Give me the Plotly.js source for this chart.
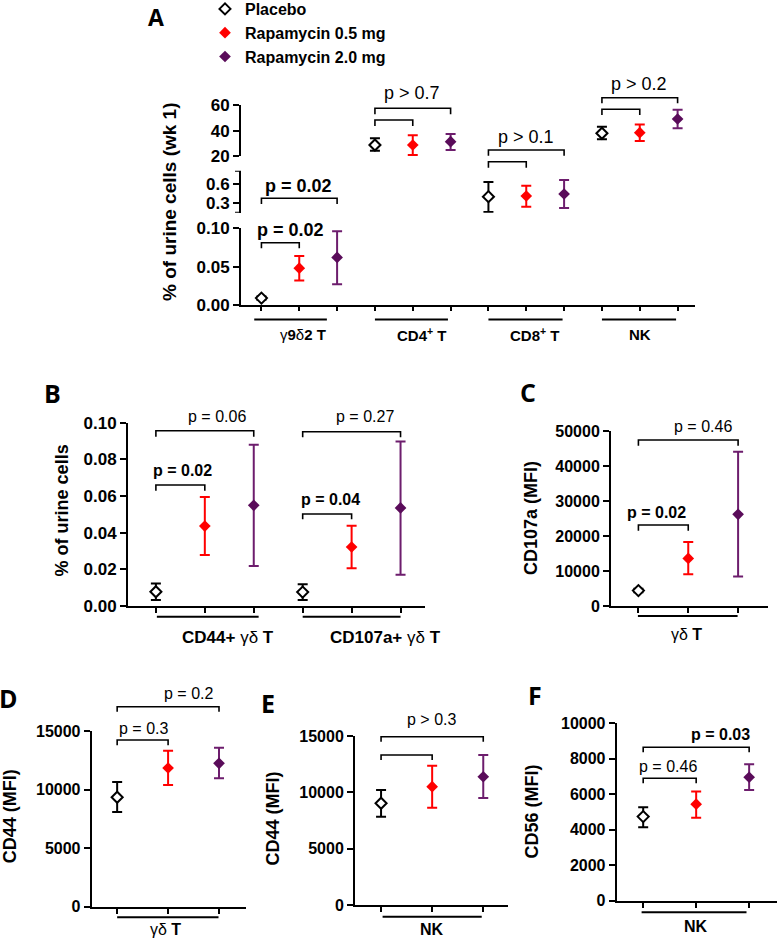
<!DOCTYPE html>
<html><head><meta charset="utf-8">
<script src="https://cdn.plot.ly/plotly-3.0.1.min.js"></script>
<style>html,body{margin:0;padding:0;background:#fff}</style>
</head><body><div id="chart" style="width:777px;height:941px"></div>
<script>
// ---------------- DATA ----------------
const seriesNames = ['Placebo', 'Rapamycin 0.5 mg', 'Rapamycin 2.0 mg'];

// Panel A (% of urine cells, wk 1) — groups: γ9δ2 T, CD4+ T, CD8+ T, NK
const aGroups = ['γ<b>9</b>δ<b>2 T</b>', '<b>CD4<sup>+</sup> T</b>', '<b>CD8<sup>+</sup> T</b>', '<b>NK</b>'];
const aPlacebo   = [0.009, 28.8, 0.395, 38.0];
const aPlaceboUp = [0.002, 5.2, 0.23, 5.1];
const aPlaceboDn = [0.002, 4.4, 0.24, 4.7];
const aLow       = [0.048, 28.8, 0.406, 38.4];
const aLowUp     = [0.016, 7.6, 0.16, 6.3];
const aLowDn     = [0.016, 7.8, 0.17, 6.4];
const aHigh      = [0.062, 31.4, 0.437, 49.1];
const aHighUp    = [0.034, 6.0, 0.22, 7.1];
const aHighDn    = [0.035, 6.5, 0.22, 7.2];
const aPvals     = ['p = 0.02', 'p = 0.02', 'p > 0.7', 'p > 0.1', 'p > 0.2'];
const aTicksLow  = [0, 0.05, 0.1];
const aTicksMid  = [0.3, 0.6];
const aTicksTop  = [20, 40, 60];

// Panel B (% of urine cells)
const bGroups = ['<b>CD44+ </b>γδ<b> T</b>', '<b>CD107a+ </b>γδ<b> T</b>'];
const bPlacebo   = [0.0078, 0.0076];
const bPlaceboUp = [0.0045, 0.0042];
const bPlaceboDn = [0.0045, 0.0043];
const bLow       = [0.0436, 0.0322];
const bLowUp     = [0.0159, 0.0116];
const bLowDn     = [0.0158, 0.0116];
const bHigh      = [0.0549, 0.0535];
const bHighUp    = [0.0331, 0.0363];
const bHighDn    = [0.0331, 0.0364];
const bPvals     = ['p = 0.02', 'p = 0.06', 'p = 0.04', 'p = 0.27'];

// Panel C: CD107a (MFI), γδ T
const cGroup = 'γδ<b> T</b>';
const cMean = [4400, 13600, 26200];
const cUp   = [500, 4700, 17900];
const cDn   = [500, 4550, 17800];
const cPvals = ['p = 0.02', 'p = 0.46'];

// Panel D: CD44 (MFI), γδ T
const dGroup = 'γδ<b> T</b>';
const dMean = [9340, 11840, 12240];
const dUp   = [1300, 1480, 1330];
const dDn   = [1250, 1450, 1280];
const dPvals = ['p = 0.3', 'p = 0.2'];

// Panel E: CD44 (MFI), NK
const eGroup = '<b>NK</b>';
const eMean = [9040, 10510, 11390];
const eUp   = [1180, 1860, 1920];
const eDn   = [1190, 1860, 1890];
const ePval = 'p > 0.3';

// Panel F: CD56 (MFI), NK
const fGroup = '<b>NK</b>';
const fMean = [4740, 5440, 6960];
const fUp   = [530, 710, 730];
const fDn   = [600, 760, 720];
const fPvals = ['p = 0.46', 'p = 0.03'];

// ---------------- STYLE / LAYOUT ----------------
const W = 777, H = 941;
const FONT = 'Liberation Sans, Arial, sans-serif';
const px = v => v / W;
const py = v => 1 - v / H;
const xdom = (a, b) => [px(a), px(b)];
const ydom = (bottom, top) => [py(bottom), py(top)];

const markerStyles = [
  {symbol: 'diamond', size: 8.5, color: '#ffffff', line: {color: '#000000', width: 2}},
  {symbol: 'diamond', size: 9, color: '#ff0000', line: {width: 0}},
  {symbol: 'diamond', size: 9, color: '#5a0c5a', line: {width: 0}}
];
const errColors = ['#000000', '#ff0000', '#6d1d6d'];

const traces = [];
function addSeries(xa, ya, xs, ys, up, dn, s, showLegend) {
  traces.push({
    type: 'scatter', mode: 'markers', x: xs, y: ys, xaxis: xa, yaxis: ya,
    name: seriesNames[s], legendgroup: 's' + s, showlegend: showLegend,
    marker: markerStyles[s], cliponaxis: false, hoverinfo: 'skip',
    error_y: {type: 'data', symmetric: false, array: up, arrayminus: dn,
              color: errColors[s], thickness: 2, width: 5}
  });
}

// Panel A traces (broken y axis: y = 0–0.1, y2 = 0.14–0.8, y3 = 20–60)
const aYaxis = ['y', 'y3', 'y2', 'y3'];
const aSeries = [[aPlacebo, aPlaceboUp, aPlaceboDn], [aLow, aLowUp, aLowDn], [aHigh, aHighUp, aHighDn]];
for (let s = 0; s < 3; s++) {
  for (let g = 0; g < aGroups.length; g++) {
    const [v, u, d] = aSeries[s];
    addSeries('x', aYaxis[g], [g * 3 + s], [v[g]], [u[g]], [d[g]], s, g === 0);
  }
}
// Panel B
const bSeries = [[bPlacebo, bPlaceboUp, bPlaceboDn], [bLow, bLowUp, bLowDn], [bHigh, bHighUp, bHighDn]];
for (let s = 0; s < 3; s++) {
  const [v, u, d] = bSeries[s];
  addSeries('x2', 'y4', bGroups.map((_, g) => g * 3 + s), v, u, d, s, false);
}
// Panels C–F
[[cMean, cUp, cDn, 'x3', 'y5'], [dMean, dUp, dDn, 'x4', 'y6'], [eMean, eUp, eDn, 'x5', 'y7'], [fMean, fUp, fDn, 'x6', 'y8']]
  .forEach(([m, u, d, xa, ya]) => {
    for (let s = 0; s < 3; s++) addSeries(xa, ya, [s], [m[s]], [u[s]], [d[s]], s, false);
  });

const axBase = {
  showgrid: false, zeroline: false, showline: true, linecolor: '#000', linewidth: 2,
  ticks: 'outside', tickcolor: '#000', tickwidth: 2, ticklen: 6, fixedrange: true,
  tickfont: {family: FONT, size: 16, color: '#000', weight: 'bold'}
};
const bigTick = {family: FONT, size: 17, color: '#000', weight: 'bold'};
const xBase = Object.assign({}, axBase, {showticklabels: false, ticklen: 5});
const mk = (base, extra) => Object.assign({}, base, extra);

const layout = {
  width: W, height: H, margin: {l: 0, r: 0, t: 0, b: 0, pad: 0, autoexpand: false},
  paper_bgcolor: '#fff', plot_bgcolor: 'rgba(0,0,0,0)',
  font: {family: FONT, color: '#000'},
  showlegend: true,
  legend: {x: px(205), y: py(-8), xanchor: 'left', yanchor: 'top', bgcolor: 'rgba(0,0,0,0)',
           font: {family: FONT, size: 16, color: '#000', weight: 'bold'}, tracegroupgap: 0, itemclick: false},
  // Panel A
  xaxis:  mk(xBase, {domain: xdom(241, 695), range: [-0.54, 11.46], anchor: 'y',
                     tickvals: [0,1,2,3,4,5,6,7,8,9,10,11], ticklen: 4}),
  yaxis:  mk(axBase, {domain: ydom(305, 228.3), range: [0, 0.1], anchor: 'x',
                      tickvals: aTicksLow, tickformat: '.2f', tickfont: bigTick}),
  yaxis2: mk(axBase, {domain: ydom(212.7, 170.7), range: [0.142, 0.805], anchor: 'x',
                      tickvals: aTicksMid, tickformat: '.1f', tickfont: bigTick}),
  yaxis3: mk(axBase, {domain: ydom(156.3, 105), range: [20, 60], anchor: 'x',
                      tickvals: aTicksTop, tickfont: bigTick}),
  // Panel B
  xaxis2: mk(xBase, {domain: xdom(128, 425), range: [-0.57, 5.5], anchor: 'y4', tickvals: [0,1,2,3,4,5]}),
  yaxis4: mk(axBase, {domain: ydom(606, 422.7), range: [0, 0.1], anchor: 'x2', dtick: 0.02, tickformat: '.2f',
                      tickfont: bigTick}),
  // Panel C
  xaxis3: mk(xBase, {domain: xdom(611, 768), range: [-0.55, 2.6], anchor: 'y5', tickvals: [0,1,2]}),
  yaxis5: mk(axBase, {domain: ydom(606, 431), range: [0, 50000], anchor: 'x3', dtick: 10000, tickformat: 'd'}),
  // Panel D
  xaxis4: mk(xBase, {domain: xdom(91.7, 246), range: [-0.5, 2.53], anchor: 'y6', tickvals: [0,1,2]}),
  yaxis6: mk(axBase, {domain: ydom(906.7, 731), range: [0, 15000], anchor: 'x4', dtick: 5000, tickformat: 'd'}),
  // Panel E
  xaxis5: mk(xBase, {domain: xdom(355, 508.3), range: [-0.51, 2.49], anchor: 'y7', tickvals: [0,1,2]}),
  yaxis7: mk(axBase, {domain: ydom(905.3, 736), range: [0, 15000], anchor: 'x5', dtick: 5000, tickformat: 'd'}),
  // Panel F
  xaxis6: mk(xBase, {domain: xdom(616.7, 776.7), range: [-0.5, 2.52], anchor: 'y8', tickvals: [0,1,2]}),
  yaxis8: mk(axBase, {domain: ydom(900.7, 723.3), range: [0, 10000], anchor: 'x6', dtick: 2000, tickformat: 'd'}),
  shapes: [], annotations: []
};

// end caps of the middle (broken) segment of panel A's y axis
[0.142, 0.805].forEach(v => layout.shapes.push({type: 'line', xref: 'paper', yref: 'y2',
  x0: px(235), x1: px(241), y0: v, y1: v, line: {color: '#000', width: 2}}));

function bracket(xa, x0, x1, top, leg) {
  layout.shapes.push({type: 'path', xref: xa, yref: 'paper', line: {color: '#000', width: 1.6},
    path: `M ${x0},${py(leg)} L ${x0},${py(top)} L ${x1},${py(top)} L ${x1},${py(leg)}`});
}
function text(xref, x, y, t, size, bold, extra) {
  layout.annotations.push(Object.assign({xref: xref, yref: 'paper', x: x, y: py(y), text: bold ? '<b>' + t + '</b>' : t,
    showarrow: false, xanchor: 'center', yanchor: 'middle', font: {family: FONT, size: size, color: '#000'}}, extra || {}));
}
function underline(xa, x0, x1, y) {
  layout.shapes.push({type: 'line', xref: xa, yref: 'paper', x0: x0, x1: x1, y0: py(y), y1: py(y), line: {color: '#000', width: 2}});
}

// Panel A brackets
bracket('x', 0, 1, 242.7, 248.3); text('x', 0.76, 230, aPvals[0], 18, true);
bracket('x', 0, 2, 198.3, 204);   text('x', 0.97, 186.5, aPvals[1], 18, true);
bracket('x', 3, 4, 120, 126); bracket('x', 3, 5, 108.3, 114.3); text('x', 3.99, 93, aPvals[2], 18, false);
bracket('x', 6, 7, 161.7, 167.7); bracket('x', 6, 8, 150, 155.7); text('x', 7.0, 137, aPvals[3], 18, false);
bracket('x', 9, 10, 109.3, 115); bracket('x', 9, 11, 97.7, 103.3); text('x', 9.99, 84, aPvals[4], 18, false);
// Panel A group labels
[[-0.19, 1.73, 1.1], [3.0, 4.93, 4.24], [6.0, 7.96, 7.24], [9.0, 10.96, 10.0]].forEach(([a, b, c], g) => {
  underline('x', a, b, 319.5); text('x', c, 334, aGroups[g], 15, false);
});
// Panel B
bracket('x2', 0, 1, 485, 490.7); text('x2', 0.55, 470.7, bPvals[0], 16, true);
bracket('x2', 0, 2, 430.7, 436.7); text('x2', 1.25, 416, bPvals[1], 16, false);
bracket('x2', 3, 4, 514, 519.3); text('x2', 3.57, 499.3, bPvals[2], 16, true);
bracket('x2', 3, 5, 431.7, 437.3); text('x2', 4.28, 416, bPvals[3], 16, false);
[[0.02, 2.1, 1.47], [3.0, 5.0, 4.7]].forEach(([a, b, c], g) => {
  underline('x2', a, b, 616.7); text('x2', c, 637, bGroups[g], 17, false);
});
// Panel C
bracket('x3', 0, 1, 525, 530.7); text('x3', 0.37, 512.7, cPvals[0], 16, true);
bracket('x3', 0, 2, 440, 445.7); text('x3', 1.3, 426.7, cPvals[1], 16, false);
underline('x3', -0.01, 1.99, 616); text('x3', 0.97, 634, cGroup, 16, false);
// Panel D
bracket('x4', 0, 1, 740, 745.3); text('x4', 0.52, 728.3, dPvals[0], 16, false);
bracket('x4', 0, 2, 706.7, 711.7); text('x4', 1.4, 693.3, dPvals[1], 16, false);
underline('x4', 0, 1.99, 917.3); text('x4', 0.94, 929, dGroup, 16, false);
// Panel E
bracket('x5', 0, 1, 755, 760);
bracket('x5', 0, 2, 736.7, 741.7); text('x5', 0.99, 719.3, ePval, 16, false);
underline('x5', 0.03, 1.97, 916.7); text('x5', 0.99, 929, eGroup, 16, false);
// Panel F
bracket('x6', 0, 1, 778.3, 783.3); text('x6', 0.47, 766.7, fPvals[0], 16, false);
bracket('x6', 0, 2, 747.3, 752.3); text('x6', 1.45, 734, fPvals[1], 16, true);
underline('x6', -0.03, 1.95, 912.3); text('x6', 1.0, 926, fGroup, 16, false);

// Y axis titles
const yTitles = [['% of urine cells (wk 1)', 169, 202, 19], ['% of urine cells', 61.7, 510.7, 18],
                 ['CD107a (MFI)', 531.7, 518.3, 18], ['CD44 (MFI)', 9.5, 816.7, 18],
                 ['CD44 (MFI)', 273.3, 818.3, 18], ['CD56 (MFI)', 531.7, 811.7, 18]];
yTitles.forEach(([t, x, y, s]) => text('paper', px(x), y, t, s, true, {textangle: -90}));

// Panel letters
const letterFont = {family: 'Open Sans, sans-serif', size: 25, color: '#000'};
text('paper', px(156), 0, 'A', 23, true, {yanchor: 'top', font: {family: 'Open Sans, sans-serif', size: 23, color: '#000'}, borderpad: 0});
[['B', 53, 393], ['C', 528, 392], ['D', 8, 698], ['E', 268, 703], ['F', 535, 695]]
  .forEach(([t, x, y]) => text('paper', px(x), y, t, 25, true, {font: letterFont}));

Plotly.newPlot('chart', traces, layout, {staticPlot: true, displayModeBar: false});
</script>
</body></html>
